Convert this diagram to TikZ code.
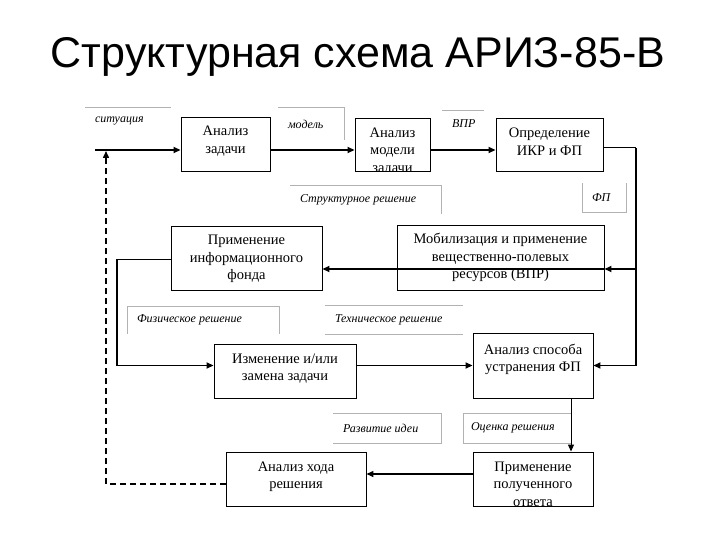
\documentclass[tikz,border=0pt]{standalone}
\usepackage{fontspec}
\setmainfont{Liberation Serif}
\newfontfamily\zagfont{Liberation Sans}
\usetikzlibrary{arrows.meta}

\tikzset{
  blok/.style={draw, line width=0.9pt, inner sep=0pt},
  tekst/.style={align=center, inner sep=0pt, font=\fontsize{14.5}{17.5}\selectfont},
  nadpis/.style n args={3}{path picture={
      \node[tekst, yshift=#2] (#1) at (path picture bounding box.center) {#3};}},
  metka/.style={inner xsep=10pt, inner ysep=0pt, align=flush left, font=\fontsize{12}{14}\selectfont\itshape},
  ramka/.style={draw=black!30, line width=0.6pt},
  potok/.style={line width=1.6pt, -{Triangle[length=7pt,width=6pt]}},
  tonk/.style={line width=1pt},
  shtrih/.style={line width=1.5pt, dash pattern=on 6pt off 4pt, -{Triangle[length=7pt,width=6pt]}}
}

\begin{document}
\begin{tikzpicture}[x=1pt, y=-1pt]
  \useasboundingbox (0,0) rectangle (720,540);

  % zagolovok
  \node[anchor=base, inner sep=0pt, font=\zagfont\fontsize{43}{50}\selectfont] (zag) at (358,68)
    {Структурная схема АРИЗ-85-В};

  % bloki
  \node[blok, minimum width=89pt, minimum height=54pt, nadpis={t1}{3pt}{Анализ\\задачи}] (b1) at (225.5,144) {};
  \node[blok, minimum width=75pt, minimum height=53pt, nadpis={t2}{-7pt}{Анализ\\модели\\задачи}] (b2) at (392.5,144.5) {};
  \node[blok, minimum width=107pt, minimum height=53pt, nadpis={t3}{3pt}{Определение\\ИКР и ФП}] (b3) at (549.5,144.5) {};
  \node[blok, minimum width=151pt, minimum height=64pt, nadpis={t4}{-1pt}{Применение\\информационного\\фонда}] (b4) at (246.5,258) {};
  \node[blok, minimum width=207pt, minimum height=65pt, nadpis={t5}{0pt}{Мобилизация и применение\\вещественно-полевых\\ресурсов (ВПР)}] (b5) at (500.5,257.5) {};
  \node[blok, minimum width=142pt, minimum height=54pt, nadpis={t6}{2.5pt}{Изменение и/или\\замена задачи}] (b6) at (285,371) {};
  \node[blok, minimum width=120pt, minimum height=65pt, nadpis={t7}{6pt}{Анализ способа\\устранения ФП}] (b7) at (533,365.5) {};
  \node[blok, minimum width=120pt, minimum height=54pt, nadpis={t8}{-5pt}{Применение\\полученного\\ответа}] (b8) at (533,479) {};
  \node[blok, minimum width=140pt, minimum height=54pt, nadpis={t9}{2pt}{Анализ хода\\решения}] (b9) at (296,479) {};

  % metki
  \node[metka, text width=66pt, minimum height=26pt] (msit) at (128,121) {ситуация};
  \draw[ramka] (msit.north west) -- (msit.north east);
  \node[metka, text width=46pt, minimum height=32pt] (mmod) at (311,124) {модель};
  \draw[ramka] (mmod.north west) -- (mmod.north east) -- (mmod.south east);
  \node[metka, text width=22pt, minimum height=26pt] (mvpr) at (463,124) {ВПР};
  \draw[ramka] (mvpr.north west) -- (mvpr.north east);
  \node[metka, text width=24pt, minimum height=29pt] (mfp) at (604,198) {ФП};
  \draw[ramka] (mfp.north west) -- (mfp.south west) -- (mfp.south east) -- (mfp.north east);
  \node[metka, text width=131pt, minimum height=28pt] (mstr) at (365.5,200) {Структурное решение};
  \draw[ramka] (mstr.north west) -- (mstr.north east) -- (mstr.south east);
  \node[metka, text width=132pt, minimum height=28pt] (mfiz) at (203,320) {Физическое решение};
  \draw[ramka] (mfiz.south west) -- (mfiz.north west) -- (mfiz.north east) -- (mfiz.south east);
  \node[metka, text width=118pt, minimum height=29pt] (mteh) at (394,319.5) {Техническое решение};
  \draw[ramka] (mteh.north west) -- (mteh.north east);
  \draw[ramka] (mteh.south west) -- (mteh.south east);
  \node[metka, text width=88pt, minimum height=30pt] (mraz) at (387,428) {Развитие идеи};
  \draw[ramka] (mraz.north west) -- (mraz.north east) -- (mraz.south east) -- (mraz.south west);
  \node[metka, inner xsep=8pt, text width=92pt, minimum height=30pt] (mots) at (517,428) {Оценка решения};
  \draw[ramka] (mots.north east) -- (mots.north west) -- (mots.south west) -- (mots.south east);

  % svyazi
  \coordinate (sit0) at (95,150);
  \draw[potok] (sit0) -- (sit0 -| b1.west);
  \draw[potok] (sit0 -| b1.east) -- (sit0 -| b2.west);
  \draw[potok] (sit0 -| b2.east) -- (sit0 -| b3.west);

  \coordinate (ugol) at (636,148);
  \coordinate (b5v) at ([yshift=-11.5pt]b5.east);
  \draw[tonk] (ugol -| b3.east) -- (ugol);
  \draw[potok] (ugol) |- (b7.east);
  \draw[potok] (ugol |- b5v) -- (b5v);
  \draw[potok] (b5v) -- (b5v -| b4.east);

  \coordinate (b4v) at ([yshift=-1pt]b4.west);
  \coordinate (lev) at (117,259);
  \draw[tonk] (b4v) -- (lev);
  \draw[potok] (lev) |- (b7.west -| b6.west);
  \draw[potok] (b7.west -| b6.east) -- (b7.west);

  \draw[tonk, -{Triangle[length=7pt,width=6pt]}] ([xshift=38pt]b7.south) -- ([xshift=38pt]b8.north);
  \draw[potok, line width=1.3pt] ([yshift=5pt]b8.west) -- ([yshift=5pt]b9.east);

  \coordinate (vozvr) at (106,151);
  \draw[shtrih] ([yshift=-5pt]b9.west) -| (vozvr);
\end{tikzpicture}
\end{document}
